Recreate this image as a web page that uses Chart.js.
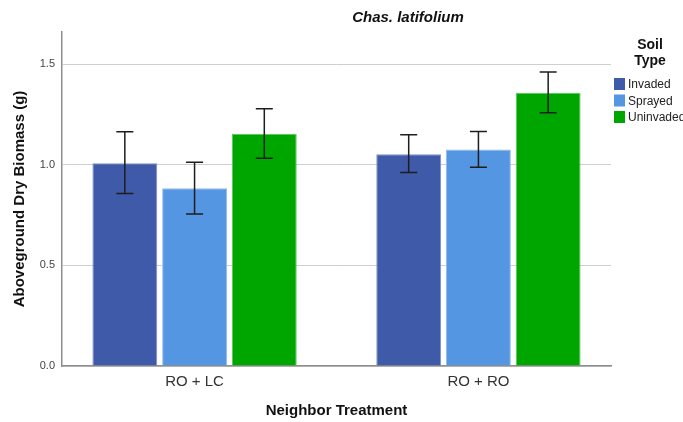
<!DOCTYPE html>
<html>
<head>
<meta charset="utf-8">
<script src="https://cdn.jsdelivr.net/npm/chart.js@4/dist/chart.umd.min.js"></script>
<style>
  html, body { margin: 0; padding: 0; background: #ffffff; }
  #wrap { width: 683px; height: 422px; }
</style>
</head>
<body>
<div id="wrap"><canvas id="chart" width="683" height="422"></canvas></div>
<script>
// Neighbor treatments along the x axis
const categories = ['RO + LC', 'RO + RO'];
// Soil types (one series each)
const seriesNames = ['Invaded', 'Sprayed', 'Uninvaded'];
// Mean aboveground dry biomass (g)
const invaded   = [1.008, 1.053];
const sprayed   = [0.884, 1.076];
const uninvaded = [1.154, 1.358];
// Error bar limits
const invadedLow    = [0.857, 0.962];
const invadedHigh   = [1.164, 1.149];
const sprayedLow    = [0.755, 0.988];
const sprayedHigh   = [1.013, 1.166];
const uninvadedLow  = [1.033, 1.259];
const uninvadedHigh = [1.279, 1.461];
// Value axis ticks
const yTicks = [0, 0.5, 1.0, 1.5];

const FONT = "'Liberation Sans', Arial, sans-serif";
const colors  = ['#3e5aa8', '#5596e2', '#00a600'];
const borders = ['#7d90c8', '#93bbee', '#5cc45c'];

const values = [invaded, sprayed, uninvaded];
const lows   = [invadedLow, sprayedLow, uninvadedLow];
const highs  = [invadedHigh, sprayedHigh, uninvadedHigh];

const datasets = seriesNames.map((name, s) => ({
  label: name,
  data: categories.map((c, i) => ({ x: i, y: values[s][i] })),
  errLow: lows[s],
  errHigh: highs[s],
  backgroundColor: colors[s],
  borderColor: borders[s],
  borderWidth: 1,
  categoryPercentage: 0.737,
  barPercentage: 0.93
}));

// Whiskers with caps for each bar
const errorBars = {
  id: 'errorBars',
  afterDatasetsDraw(chart) {
    const { ctx, scales: { y } } = chart;
    ctx.save();
    ctx.strokeStyle = '#1e1e1e';
    ctx.lineWidth = 1.5;
    chart.data.datasets.forEach((ds, di) => {
      const meta = chart.getDatasetMeta(di);
      meta.data.forEach((bar, i) => {
        const x = bar.x;
        const yl = y.getPixelForValue(ds.errLow[i]);
        const yh = y.getPixelForValue(ds.errHigh[i]);
        const cap = 8.5;
        ctx.beginPath();
        ctx.moveTo(x, yl); ctx.lineTo(x, yh);
        ctx.moveTo(x - cap, yl); ctx.lineTo(x + cap, yl);
        ctx.moveTo(x - cap, yh); ctx.lineTo(x + cap, yh);
        ctx.stroke();
      });
    });
    ctx.restore();
  }
};

// Chart title and soil-type legend
const decorations = {
  id: 'decorations',
  afterDraw(chart) {
    const { ctx } = chart;
    ctx.save();
    ctx.fillStyle = '#111';
    ctx.textAlign = 'center';
    ctx.textBaseline = 'middle';
    ctx.font = `italic bold 15px ${FONT}`;
    ctx.fillText('Chas. latifolium', 408, 18);

    ctx.font = `bold 14px ${FONT}`;
    ctx.fillText('Soil', 650, 45);
    ctx.fillText('Type', 650, 61);

    ctx.textAlign = 'left';
    ctx.font = `12px ${FONT}`;
    chart.data.datasets.forEach((ds, i) => {
      const cy = 84 + i * 16.5;
      ctx.fillStyle = ds.backgroundColor;
      ctx.fillRect(614, cy - 6, 11, 12);
      ctx.fillStyle = '#222';
      ctx.fillText(ds.label, 628, cy + 1);
    });
    ctx.restore();
  }
};

new Chart(document.getElementById('chart'), {
  type: 'bar',
  data: { datasets },
  plugins: [errorBars, decorations],
  options: {
    responsive: false,
    animation: false,
    devicePixelRatio: 1,
    layout: { padding: { left: 0, right: 72, top: 32, bottom: 0 } },
    plugins: {
      legend: { display: false },
      tooltip: { enabled: false },
      title: { display: false }
    },
    scales: {
      x: {
        type: 'linear',
        offset: false,
        min: -0.467,
        max: 1.467,
        afterBuildTicks(scale) {
          scale.ticks = categories.map((c, i) => ({ value: i }));
        },
        afterFit(scale) { scale.height = 56; },
        grid: { display: false, drawTicks: false, offset: false },
        border: { display: true, color: '#8e8e8e', width: 1.5 },
        ticks: {
          padding: 7,
          color: '#333',
          font: { family: FONT, size: 15 },
          callback: (v) => categories[v] ?? ''
        },
        title: {
          display: true,
          text: 'Neighbor Treatment',
          color: '#111',
          font: { family: FONT, size: 15, weight: 'bold' },
          padding: { top: 0, bottom: 2 }
        }
      },
      y: {
        min: 0,
        max: 1.66,
        afterBuildTicks(scale) {
          scale.ticks = yTicks.map(v => ({ value: v }));
        },
        afterFit(scale) { scale.width = 62; },
        grid: { color: '#cfcfcf', lineWidth: 1, drawTicks: false },
        border: { display: true, color: '#8e8e8e', width: 1.5 },
        ticks: {
          padding: 7,
          color: '#444',
          font: { family: FONT, size: 11 },
          callback: (v) => Number(v).toFixed(1)
        },
        title: {
          display: true,
          text: 'Aboveground Dry Biomass (g)',
          color: '#111',
          font: { family: FONT, size: 15, weight: 'bold' },
          padding: { top: 11, bottom: 0 }
        }
      }
    }
  }
});
</script>
</body>
</html>
